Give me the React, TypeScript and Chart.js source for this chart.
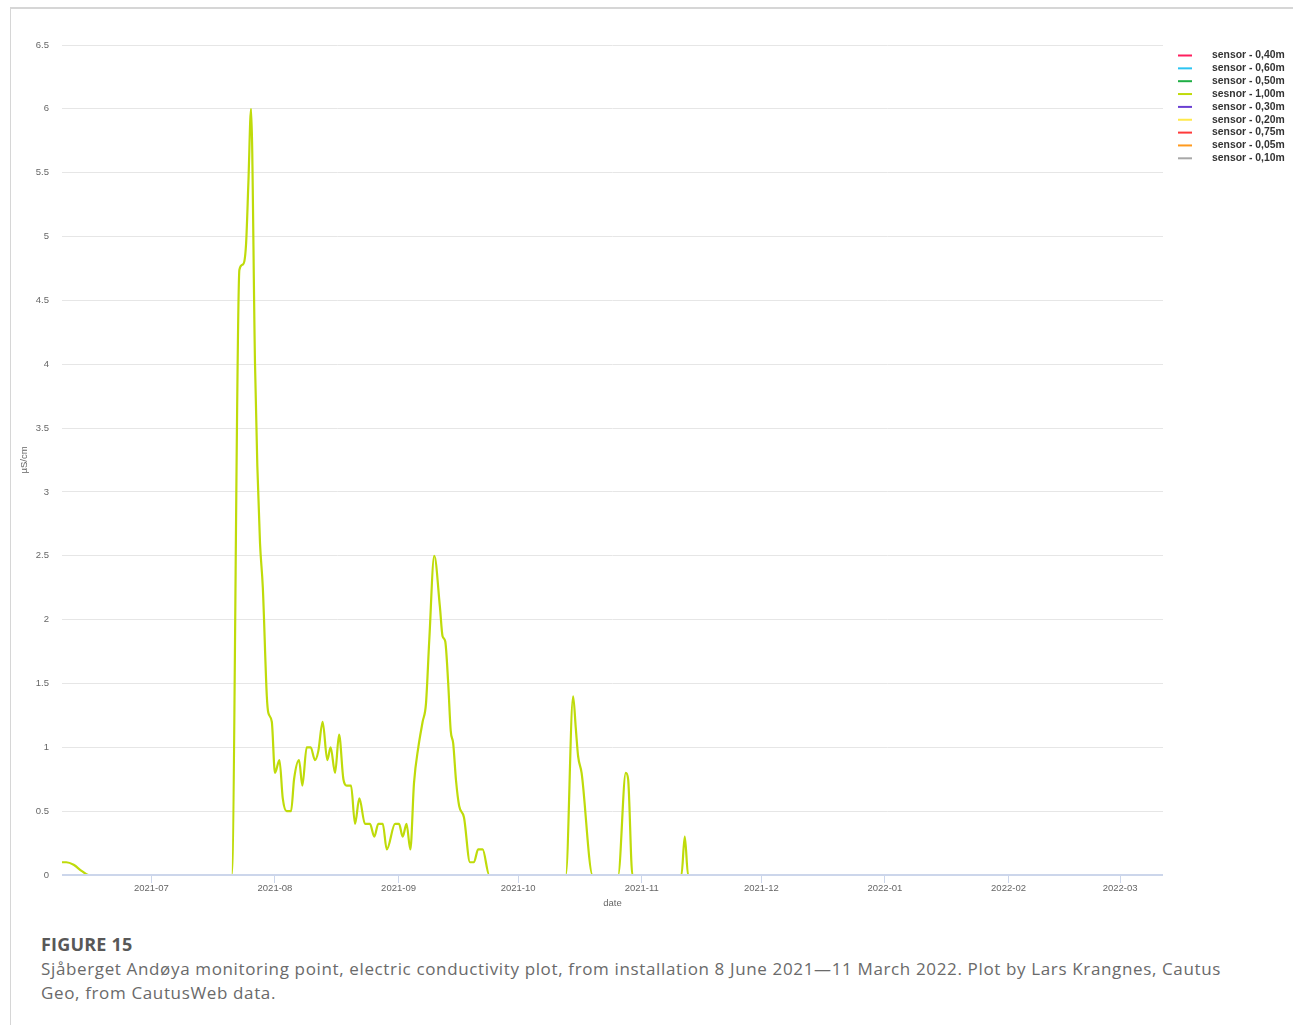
import React, { useEffect, useRef } from "react";
import { Chart, registerables } from "chart.js";

Chart.register(...registerables);

// Readings of the 1,00 m sensor (UTC timestamps, µS/cm)
const readingTimes = [
  "2021-06-08T14:00", "2021-06-09T16:00", "2021-06-11T12:00", "2021-06-13T14:00", "2021-06-15T06:00",
  "2021-07-21T04:00", "2021-07-23T02:00", "2021-07-23T22:00", "2021-07-24T18:00", "2021-07-25T08:00",
  "2021-07-26T00:00", "2021-07-27T00:00", "2021-07-27T14:00", "2021-07-28T06:00", "2021-07-28T23:00",
  "2021-07-29T23:00", "2021-07-30T08:00", "2021-07-31T05:00", "2021-08-01T00:00", "2021-08-02T03:00",
  "2021-08-02T23:00", "2021-08-03T22:00", "2021-08-05T01:00", "2021-08-05T19:00", "2021-08-07T01:00",
  "2021-08-07T21:00", "2021-08-08T23:00", "2021-08-09T23:00", "2021-08-11T01:00", "2021-08-11T21:00",
  "2021-08-12T23:00", "2021-08-14T03:00", "2021-08-14T23:00", "2021-08-16T02:00", "2021-08-17T02:00",
  "2021-08-18T04:00", "2021-08-19T00:00", "2021-08-20T02:00", "2021-08-21T02:00", "2021-08-22T04:00",
  "2021-08-23T14:00", "2021-08-24T20:00", "2021-08-25T22:00", "2021-08-26T22:00", "2021-08-28T01:00",
  "2021-08-29T01:00", "2021-08-31T03:00", "2021-09-01T03:00", "2021-09-02T01:00", "2021-09-03T00:00",
  "2021-09-03T23:00", "2021-09-04T21:00", "2021-09-05T23:00", "2021-09-07T01:00", "2021-09-07T21:00",
  "2021-09-08T17:00", "2021-09-09T23:00", "2021-09-11T09:00", "2021-09-12T01:00", "2021-09-12T17:00",
  "2021-09-13T11:00", "2021-09-14T02:00", "2021-09-14T17:00", "2021-09-15T10:00", "2021-09-16T05:00",
  "2021-09-17T10:00", "2021-09-18T22:00", "2021-09-19T22:00", "2021-09-20T23:00", "2021-09-22T02:00",
  "2021-09-23T18:00", "2021-10-12T23:00", "2021-10-14T19:00", "2021-10-15T11:00", "2021-10-16T01:00",
  "2021-10-16T22:00", "2021-10-19T16:00", "2021-10-26T02:00", "2021-10-28T00:00", "2021-10-28T14:00",
  "2021-10-29T16:00", "2021-11-10T23:00", "2021-11-11T19:00", "2021-11-12T15:00", "2022-03-11T18:00",
];

const sensor100Values = [
  0.1, 0.1, 0.08, 0.03, 0,
  0, 4.74, 4.78, 4.94, 5.42,
  6.0, 4.0, 3.2, 2.6, 2.25,
  1.4, 1.27, 1.2, 0.8, 0.9,
  0.6, 0.5, 0.5, 0.75, 0.9,
  0.7, 1.0, 1.0, 0.9, 0.97,
  1.2, 0.9, 1.0, 0.8, 1.1,
  0.75, 0.7, 0.7, 0.4, 0.6,
  0.4, 0.4, 0.3, 0.4, 0.4,
  0.2, 0.4, 0.4, 0.3, 0.4,
  0.2, 0.72, 1.0, 1.2, 1.34,
  1.84, 2.5, 2.1, 1.87, 1.83,
  1.5, 1.13, 1.03, 0.74, 0.54,
  0.45, 0.1, 0.1, 0.2, 0.2,
  0, 0, 1.4, 1.15, 0.93,
  0.8, 0, 0, 0.8, 0.75,
  0, 0, 0.3, 0, 0,
];

// The remaining sensors report no readings over the period
const noReadings: number[] = [];

const seriesLabels = [
  "sensor - 0,40m",
  "sensor - 0,60m",
  "sensor - 0,50m",
  "sesnor - 1,00m",
  "sensor - 0,30m",
  "sensor - 0,20m",
  "sensor - 0,75m",
  "sensor - 0,05m",
  "sensor - 0,10m",
];

const seriesColors = [
  "#ff1f5e",
  "#2cc4f2",
  "#1fae45",
  "#bfdb0a",
  "#6a3fd2",
  "#ffe94a",
  "#ff3a3a",
  "#ff9a1e",
  "#a8a8a8",
];

const monthTicks = [
  "2021-07", "2021-08", "2021-09", "2021-10", "2021-11",
  "2021-12", "2022-01", "2022-02", "2022-03",
];

const axisStart = "2021-06-08T14:00";
const axisEnd = "2022-03-11T18:00";
const yMax = 6.5;
const yStep = 0.5;

const toMs = (s: string) => Date.parse(s + ":00Z");
const monthTickValues = monthTicks.map((m) => Date.parse(m + "-01T00:00:00Z"));

const FONT = '"Liberation Sans", Arial, sans-serif';

const legendPlugin = {
  id: "sideLegend",
  afterDraw(chart: any) {
    const ctx = chart.ctx;
    ctx.save();
    chart.data.datasets.forEach((ds: any, i: number) => {
      const y = 55.5 + i * 12.85;
      ctx.strokeStyle = ds.borderColor;
      ctx.lineWidth = 2;
      ctx.beginPath();
      ctx.moveTo(1178, y);
      ctx.lineTo(1192, y);
      ctx.stroke();
      ctx.fillStyle = "#333333";
      ctx.font = `bold 10.4px ${FONT}`;
      ctx.textBaseline = "middle";
      ctx.textAlign = "left";
      ctx.fillText(ds.label, 1212, y);
    });
    ctx.restore();
  },
};

const axisLinePlugin = {
  id: "xAxisLine",
  afterDatasetsDraw(chart: any) {
    const { ctx, chartArea } = chart;
    ctx.save();
    ctx.strokeStyle = "#ccd6eb";
    ctx.lineWidth = 2;
    ctx.beginPath();
    ctx.moveTo(chartArea.left, chartArea.bottom);
    ctx.lineTo(chartArea.right, chartArea.bottom);
    ctx.stroke();
    ctx.restore();
  },
};

function ConductivityChart() {
  const canvasRef = useRef<HTMLCanvasElement | null>(null);

  useEffect(() => {
    if (!canvasRef.current) return;
    const points = readingTimes.map((t, i) => ({ x: toMs(t), y: sensor100Values[i] }));
    const datasets = seriesLabels.map((label, i) => ({
      label,
      data: i === 3 ? points : noReadings,
      borderColor: seriesColors[i],
      backgroundColor: seriesColors[i],
      borderWidth: 2.2,
      pointRadius: 0,
      fill: false,
      cubicInterpolationMode: "monotone" as const,
    }));

    const chart = new Chart(canvasRef.current, {
      type: "line",
      data: { datasets },
      options: {
        animation: false,
        responsive: false,
        maintainAspectRatio: false,
        layout: { padding: { left: 0, top: 45, right: 130, bottom: 0 } },
        plugins: {
          legend: { display: false },
          tooltip: { enabled: false },
        },
        scales: {
          x: {
            type: "linear",
            min: toMs(axisStart),
            max: toMs(axisEnd),
            afterBuildTicks: (scale: any) => {
              scale.ticks = monthTickValues.map((v) => ({ value: v }));
            },
            afterFit: (scale: any) => {
              scale.height = 50;
            },
            ticks: {
              autoSkip: false,
              maxRotation: 0,
              padding: 0,
              color: "#666666",
              font: { family: FONT, size: 9.5 },
              callback: (value: any) => {
                const i = monthTickValues.indexOf(Number(value));
                return i >= 0 ? monthTicks[i] : "";
              },
            },
            grid: {
              drawOnChartArea: false,
              drawTicks: true,
              tickLength: 8,
              tickColor: "#ccd6eb",
              tickWidth: 1,
            },
            border: { display: false },
            title: {
              display: true,
              text: "date",
              color: "#666666",
              font: { family: FONT, size: 9.5 },
              padding: { top: 0, bottom: 16 },
            },
          },
          y: {
            type: "linear",
            min: 0,
            max: yMax,
            afterFit: (scale: any) => {
              scale.width = 62;
            },
            ticks: {
              stepSize: yStep,
              padding: 13,
              color: "#666666",
              font: { family: FONT, size: 9.5 },
              callback: (value: any) => String(value),
            },
            grid: { color: "#e6e6e6", lineWidth: 1, drawTicks: false },
            border: { display: false },
            title: {
              display: true,
              text: "µS/cm",
              color: "#666666",
              font: { family: FONT, size: 9.5 },
              padding: { top: 19, bottom: 0 },
            },
          },
        },
      },
      plugins: [axisLinePlugin, legendPlugin],
    });

    return () => chart.destroy();
  }, []);

  return (
    <canvas
      ref={canvasRef}
      width={1293}
      height={925}
      style={{ position: "absolute", left: 0, top: 0, width: 1293, height: 925 }}
    />
  );
}

export default function App() {
  return (
    <div>
      <div
        style={{
          position: "absolute",
          left: 10,
          top: 7,
          width: 1283,
          height: 1018,
          borderTop: "2px solid #d6d6d6",
          borderLeft: "1px solid #d6d6d6",
          boxSizing: "border-box",
        }}
      />
      <ConductivityChart />
      <div
        style={{
          position: "absolute",
          left: 41,
          top: 934,
          fontFamily: '"Open Sans", sans-serif',
          fontWeight: 700,
          fontSize: 18,
          letterSpacing: "0.2px",
          lineHeight: "20px",
          color: "#585858",
          whiteSpace: "nowrap",
        }}
      >
        FIGURE 15
      </div>
      <div
        style={{
          position: "absolute",
          left: 41,
          top: 957,
          fontFamily: '"Open Sans", sans-serif',
          fontWeight: 400,
          fontSize: 17,
          letterSpacing: "0.64px",
          lineHeight: "24px",
          color: "#6a6a6a",
          whiteSpace: "nowrap",
        }}
      >
        Sjåberget Andøya monitoring point, electric conductivity plot, from installation 8 June 2021—11 March 2022. Plot by Lars Krangnes, Cautus
        <br />
        Geo, from CautusWeb data.
      </div>
    </div>
  );
}
